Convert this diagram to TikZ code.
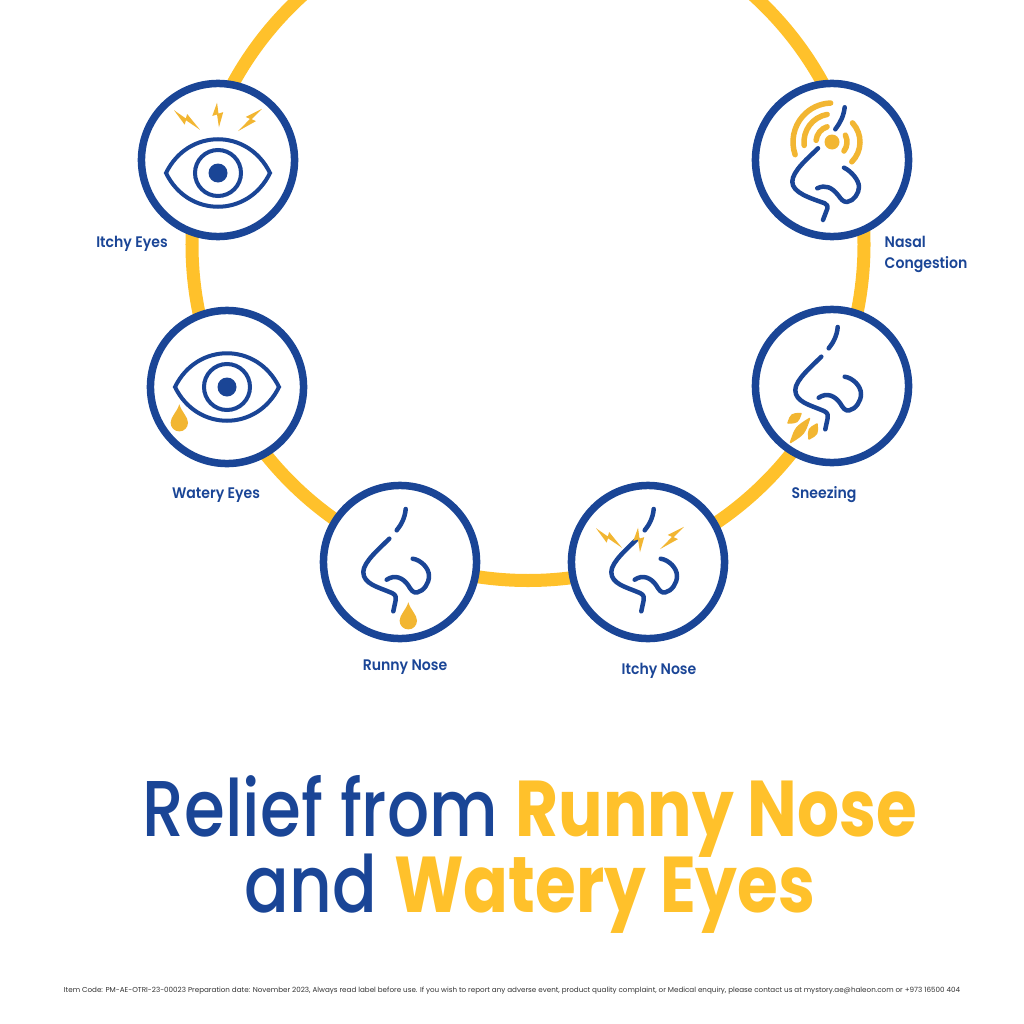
\documentclass[tikz,border=0pt]{standalone}
\usepackage{fontspec}
\setmainfont{Poppins}
\newfontfamily\titlefont{Poppins Medium}[FakeStretch=0.835]
\newfontfamily\titleboldfont{Poppins}[FakeStretch=0.835, UprightFont=* Bold]
\newfontfamily\labelfont{Poppins SemiBold}[FakeStretch=0.92]
\usepackage{tikz}
\definecolor{navy}{HTML}{1A4596}
\definecolor{ringyellow}{HTML}{FFC12B}
\definecolor{iconyellow}{HTML}{F2B632}
\tikzset{
    symcircle/.style={circle, draw=navy, fill=white, line width=0.075cm, minimum size=1.53cm, inner sep=0pt},
    symlabel/.style={text=navy, font=\fontsize{4.35}{6}\labelfont, align=left, inner sep=0pt},
    titleline/.style={anchor=base, text=navy, font=\fontsize{22.5}{26}\titlefont},
    navyline/.style={draw=navy, line width=0.045cm, line cap=round, line join=round},
    eyeline/.style={draw=navy, line width=0.04cm},
    waveline/.style={draw=iconyellow, line width=0.055cm, line cap=round},
    dashfill/.style={fill=iconyellow, draw=iconyellow, line width=0.015cm, line join=round},
    nose/.pic={
        \draw[navyline] (5.7,-59) .. controls (5,-50) and (1,-43) .. (-3.3,-37.7);
        \draw[navyline] (-10.7,-29.3) .. controls (-20,-20) and (-36.7,-6) .. (-36.7,4) .. controls (-36.7,16) and (-22,19) .. (-8,25) .. controls (-3.5,27) and (-4,30) .. (-4.5,33) -- (-6.7,43.3);
        \draw[navyline] (-13.3,11.7) .. controls (-5,6) and (3,10) .. (8,17) .. controls (11,22) and (13,25) .. (17,24.5) .. controls (24,23) and (29,15) .. (29,8) .. controls (29,0) and (21,-8) .. (12.7,-9.3);
    },
    bignose/.pic={
        \draw[navyline] (12.7,-52.7) .. controls (11.7,-43.7) and (8,-37) .. (3.3,-30.7);
        \draw[navyline] (-14,-11.7) .. controls (-23,-2.7) and (-39.7,11) .. (-39.7,21.7) .. controls (-39.7,32.7) and (-22,38) .. (-7.3,43.3) .. controls (-4.3,44.3) and (-4.3,46.7) .. (-4.7,48.7) -- (-9,60);
        \draw[navyline] (-14.7,28.3) .. controls (-6.7,24.3) and (0,27.5) .. (6,35) .. controls (9,39) and (11,42) .. (15,42) .. controls (22,41) and (27,33) .. (27,27) .. controls (27,20) and (19,11) .. (12,7.7);
    },
    sneezedash/.pic={
        \filldraw[dashfill] (-44,37) .. controls (-34.3,36.6) .. (-31,27.5) .. controls (-40.7,27.9) .. cycle;
        \filldraw[dashfill] (-41.5,56.5) .. controls (-27.7,47.9) .. (-22.5,32.5) .. controls (-36.3,41.1) .. cycle;
        \filldraw[dashfill] (-23,53) .. controls (-14.2,48.1) .. (-15,38) .. controls (-23.8,42.9) .. cycle;
    },
    eye/.pic={
        \draw[eyeline] (-52,0) .. controls (-30,-45) and (30,-45) .. (52,0) .. controls (30,45) and (-30,45) .. cycle;
        \draw[eyeline] (0,0) circle (23);
        \fill[navy] (0,0) circle (9.5);
    },
    bolt/.pic={
        \fill[iconyellow] (-1,-13) -- (-6,1) -- (-1,-0.5) -- (1,13) -- (5.5,-3) -- (0.5,-1.5) -- cycle;
    },
    drop/.pic={
        \fill[iconyellow] (0,-18.5) .. controls (2,-11) and (8.7,-6) .. (8.7,0) arc (0:180:8.7) .. controls (-8.7,-6) and (-2,-11) .. cycle;
    },
}
\begin{document}
\begin{tikzpicture}[x=0.01cm, y=-0.01cm]
    \useasboundingbox (0,0) rectangle (1024,1024);
    \clip (0,0) rectangle (1024,1024);
    \draw[ringyellow, line width=0.13cm] (528,244.5) circle (336);

    \node[symcircle] (itchyeyes) at (218,160) {};
    \node[symcircle] (nasal) at (832,160) {};
    \node[symcircle] (wateryeyes) at (227,387) {};
    \node[symcircle] (sneezing) at (832,386) {};
    \node[symcircle] (runnynose) at (400,562) {};
    \node[symcircle] (itchynose) at (648,562) {};

    \pic[shift={(0,13)}] at (itchyeyes) {eye};
    \pic[shift={(0,-45)}, scale=0.95] at (itchyeyes) {bolt};
    \pic[shift={(-31,-40)}, rotate=50, xscale=0.85, yscale=1.25] at (itchyeyes) {bolt};
    \pic[shift={(32,-40)}, rotate=-50, xscale=0.85, yscale=1.25] at (itchyeyes) {bolt};

    \pic at (wateryeyes) {eye};
    \pic[shift={(-47.7,35.7)}] at (wateryeyes) {drop};

    \pic at (nasal) {bignose};
    \fill[iconyellow] (nasal) ++(0,-18) coordinate (nasaldot) circle (7.5);
    \draw[waveline] (nasaldot) ++(186:16) arc (186:252:16);
    \draw[waveline] (nasaldot) ++(173:28) arc (173:260:28);
    \draw[waveline] (nasaldot) ++(161:39) arc (161:268:39);
    \draw[waveline] (nasaldot) ++(-27:15) arc (-27:37:15);
    \draw[waveline] (nasaldot) ++(-43:28) arc (-43:45:28);

    \pic at (sneezing) {nose};
    \pic at (sneezing) {sneezedash};

    \pic[shift={(0,6)}] at (runnynose) {nose};
    \pic[shift={(8.3,58.7)}] at (runnynose) {drop};

    \pic[shift={(0,6)}] at (itchynose) {nose};
    \pic[shift={(-9,-22)}, scale=0.95] at (itchynose) {bolt};
    \pic[shift={(-39,-24)}, rotate=50, xscale=0.85, yscale=1.25] at (itchynose) {bolt};
    \pic[shift={(24,-24)}, rotate=-50, xscale=0.85, yscale=1.25] at (itchynose) {bolt};

    \node[symlabel] (itchyeyeslabel) at (132,244) {Itchy Eyes};
    \node[symlabel, anchor=west] (nasallabel) at (884,254) {Nasal\\Congestion};
    \node[symlabel] (wateryeyeslabel) at (216,495) {Watery Eyes};
    \node[symlabel] (sneezinglabel) at (824,495) {Sneezing};
    \node[symlabel] (runnynoselabel) at (405,667) {Runny Nose};
    \node[symlabel] (itchynoselabel) at (659,671) {Itchy Nose};

    \node[titleline] (titleone) at (530,836) {Relief from \textcolor{ringyellow}{\titleboldfont Runny Nose}};
    \node[titleline] (titletwo) at (530,912) {and \textcolor{ringyellow}{\titleboldfont Watery Eyes}};
    \node[text=black!80, font=\fontsize{2.04}{3}\selectfont] (footnote) at (512,991) {Item Code: PM-AE-OTRI-23-00023 Preparation date: November 2023, Always read label before use. If you wish to report any adverse event, product quality complaint, or Medical enquiry, please contact us at mystory.ae@haleon.com or +973 16500 404};
\end{tikzpicture}
\end{document}
